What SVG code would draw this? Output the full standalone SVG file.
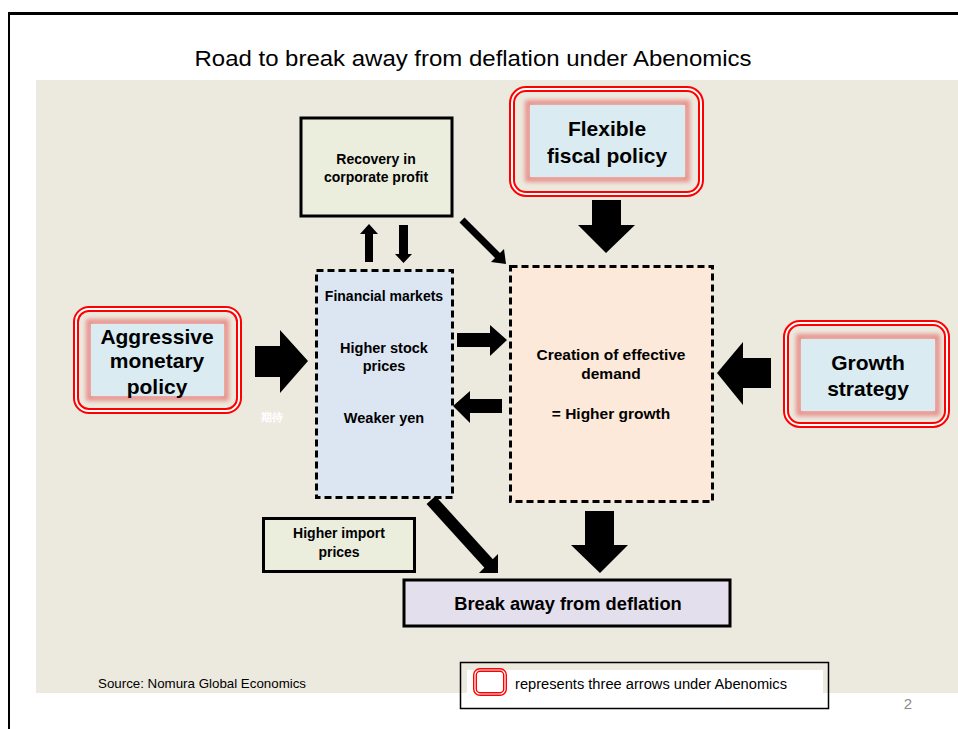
<svg xmlns="http://www.w3.org/2000/svg" width="958" height="729" viewBox="0 0 958 729">
<defs>
<filter id="blur" x="-20%" y="-20%" width="140%" height="140%"><feGaussianBlur stdDeviation="2"/></filter>
<style>
text{font-family:"Liberation Sans",Arial,sans-serif;}
.b{font-weight:bold;fill:#000;text-anchor:middle;}
.big{font-size:21px;}
.mid{font-size:14px;}
.fin{font-size:14.5px;}
.dem{font-size:15.5px;}
.sm{font-size:14px;}
.redo{fill:none;stroke:#ff0000;stroke-width:6;}
.redi{fill:none;stroke:#ffffff;stroke-width:2;}
.glow{fill:none;stroke:#e8928c;stroke-width:6;filter:url(#blur);}
.blue{fill:#daecf2;}
.solid{stroke:#000;stroke-width:3;}
.dash{stroke:#000;stroke-width:3;stroke-dasharray:7 4;}
.arr{fill:#000;}
</style>
</defs>
<rect width="958" height="729" fill="#ffffff"/>
<rect x="36" y="80" width="922" height="613" fill="#ece9df"/>
<line x1="8" y1="13.5" x2="958" y2="13.5" stroke="#000" stroke-width="3"/>
<line x1="9" y1="13" x2="9" y2="729" stroke="#000" stroke-width="2"/>
<text x="473" y="66" font-size="22" text-anchor="middle" textLength="557" lengthAdjust="spacingAndGlyphs" fill="#000">Road to break away from deflation under Abenomics</text>

<g id="node-monetary">
<rect class="redo" x="76" y="309" width="163" height="102" rx="13"/>
<rect class="redi" x="76" y="309" width="163" height="102" rx="13"/>
<rect class="glow" x="89" y="322" width="137" height="76"/>
<rect class="blue" x="91" y="324" width="133" height="72"/>
<text class="b big" x="157" y="344">Aggressive</text>
<text class="b big" x="157" y="368">monetary</text>
<text class="b big" x="157" y="394">policy</text>
</g>

<g id="node-fiscal">
<rect class="redo" x="512" y="89" width="189" height="105" rx="14"/>
<rect class="redi" x="512" y="89" width="189" height="105" rx="14"/>
<rect class="glow" x="528" y="103" width="159" height="76"/>
<rect class="blue" x="530" y="105" width="155" height="72"/>
<text class="b big" x="607" y="136">Flexible</text>
<text class="b big" x="607" y="163">fiscal policy</text>
</g>

<g id="node-growth">
<rect class="redo" x="786" y="323" width="161" height="102" rx="14"/>
<rect class="redi" x="786" y="323" width="161" height="102" rx="14"/>
<rect class="glow" x="799" y="337" width="138" height="76"/>
<rect class="blue" x="801" y="339" width="134" height="72"/>
<text class="b big" x="868" y="370">Growth</text>
<text class="b big" x="868" y="396">strategy</text>
</g>

<g id="node-profit">
<rect class="solid" x="301" y="118" width="151" height="98" fill="#ebeedd"/>
<text class="b mid" x="376" y="164">Recovery in</text>
<text class="b mid" x="376" y="182">corporate profit</text>
</g>

<g id="node-financial">
<rect class="dash" x="316.5" y="270.5" width="136" height="227" fill="#dce6f2"/>
<text class="b sm" x="384" y="301">Financial markets</text>
<text class="b fin" x="384" y="353">Higher stock</text>
<text class="b fin" x="384" y="371">prices</text>
<text class="b fin" x="384" y="423">Weaker yen</text>
</g>

<g id="node-demand">
<rect class="dash" x="510.5" y="266.5" width="202" height="235" fill="#fde9d9"/>
<text class="b dem" x="611" y="360">Creation of effective</text>
<text class="b dem" x="611" y="378.5">demand</text>
<text class="b dem" x="611" y="418.5">= Higher growth</text>
</g>

<g id="node-import">
<rect class="solid" x="263.5" y="518.5" width="151" height="53" fill="#ebeedd"/>
<text class="b mid" x="339" y="538">Higher import</text>
<text class="b mid" x="339" y="557">prices</text>
</g>

<g id="node-break">
<rect class="solid" x="404" y="580" width="326" height="46" fill="#e4dfec"/>
<text class="b" x="568" y="609.5" font-size="18.3">Break away from deflation</text>
</g>

<g id="connectors">
<polygon class="arr" points="255,346 280,346 280,330 308,361 280,393 280,377 255,377"/>
<polygon class="arr" points="592,200 621,200 621,225 635,225 606,253 578,225 592,225"/>
<polygon class="arr" points="771,358 743,358 743,342 717,373 743,405 743,388 771,388"/>
<polygon class="arr" points="365,262 365,234 360,234 369,224 378,234 373,234 373,262"/>
<polygon class="arr" points="399,225 408,225 408,254 412,254 403.5,263 395,254 399,254"/>
<polygon class="arr" points="457,333 490,333 490,325 507,340 490,356 490,347 457,347"/>
<polygon class="arr" points="502,399 470,399 470,391 453,406 470,423 470,413 502,413"/>
<line x1="462" y1="220" x2="498" y2="256" stroke="#000" stroke-width="7"/>
<polygon class="arr" points="506,264 491,262 504,249"/>
<line x1="431" y1="500" x2="490" y2="565" stroke="#000" stroke-width="12"/>
<polygon class="arr" points="498,573 479,573 498,554"/>
<polygon class="arr" points="585,511 614,511 614,545 628,545 600,573 571,545 585,545"/>
<text x="272" y="421" font-size="11" font-weight="bold" fill="#ffffff" text-anchor="middle" font-family="'Liberation Sans','Noto Sans CJK JP',sans-serif">期待</text>
</g>

<text x="98" y="688" font-size="13" textLength="208" lengthAdjust="spacingAndGlyphs" fill="#000">Source: Nomura Global Economics</text>

<g id="legend">
<rect x="467" y="670" width="356" height="39" fill="#ffffff"/>
<rect x="460.5" y="662.5" width="368" height="46" fill="none" stroke="#000" stroke-width="1.5"/>
<rect x="475" y="670" width="30" height="24" rx="5" fill="#fff" stroke="#ff0000" stroke-width="4"/>
<rect x="475" y="670" width="30" height="24" rx="5" fill="none" stroke="#ffffff" stroke-width="1.2"/>
<text x="515" y="689" font-size="14" textLength="272" lengthAdjust="spacingAndGlyphs" fill="#000">represents three arrows under Abenomics</text>
</g>
<text x="908" y="709" font-size="15" fill="#8c8c8c" text-anchor="middle">2</text>
</svg>
